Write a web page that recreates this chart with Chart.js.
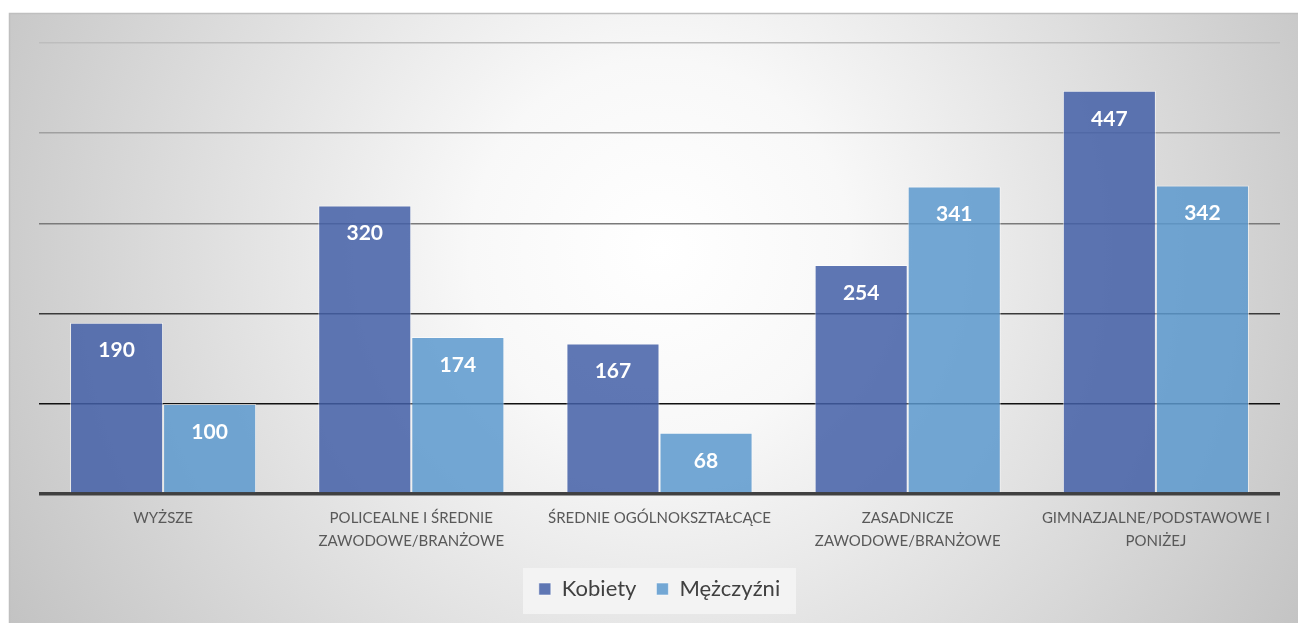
<!DOCTYPE html>
<html><head><meta charset="utf-8">
<script src="https://cdn.jsdelivr.net/npm/chart.js@4/dist/chart.umd.min.js"></script>
<style>html,body{margin:0;padding:0;background:#fff}#w{width:1298px;height:623px}</style>
</head><body><div id="w"><canvas id="c"></canvas></div>
<script>
const categories = [
  ["WYŻSZE"],
  ["POLICEALNE I ŚREDNIE", "ZAWODOWE/BRANŻOWE"],
  ["ŚREDNIE OGÓLNOKSZTAŁCĄCE"],
  ["ZASADNICZE", "ZAWODOWE/BRANŻOWE"],
  ["GIMNAZJALNE/PODSTAWOWE I", "PONIŻEJ"]
];
const kobiety = [190, 320, 167, 254, 447];
const mezczyzni = [100, 174, 68, 341, 342];
const yTicks = [0, 100, 200, 300, 400, 500];

const gridColors = {0:'#404040',100:'#111111',200:'#3a3a3a',300:'#7a7a7a',400:'#a0a0a0',500:'#bdbdbd'};

const bgPlugin = {
  id: 'bg',
  beforeDraw(chart) {
    const ctx = chart.ctx;
    ctx.save();
    ctx.fillStyle = '#ffffff';
    ctx.fillRect(0, 0, chart.width, chart.height);
    const g = ctx.createRadialGradient(660, 250, 0, 660, 250, 760);
    g.addColorStop(0, '#ffffff');
    g.addColorStop(0.25, '#f8f8f8');
    g.addColorStop(1, '#c2c2c2');
    ctx.fillStyle = g;
    ctx.fillRect(9, 13, chart.width - 9, chart.height - 13);
    ctx.strokeStyle = '#bfbfbf';
    ctx.lineWidth = 1.5;
    ctx.beginPath();
    ctx.moveTo(9.5, chart.height); ctx.lineTo(9.5, 13.5); ctx.lineTo(chart.width, 13.5);
    ctx.stroke();
    ctx.fillStyle = 'rgba(245,245,245,0.85)';
    ctx.fillRect(523, 568, 273, 46);
    ctx.restore();
  }
};

const labelPlugin = {
  id: 'vals',
  afterDatasetsDraw(chart) {
    const ctx = chart.ctx;
    ctx.save();
    ctx.font = 'bold 21px Lato, "Open Sans", sans-serif';
    ctx.fillStyle = '#ffffff';
    ctx.textAlign = 'center';
    ctx.textBaseline = 'middle';
    chart.data.datasets.forEach((ds, i) => {
      chart.getDatasetMeta(i).data.forEach((el, j) => {
        ctx.fillText(String(ds.data[j]), el.x, el.y + 28);
      });
    });
    ctx.restore();
  }
};

new Chart(document.getElementById('c'), {
  type: 'bar',
  data: {
    labels: categories,
    datasets: [
      { label: 'Kobiety', data: kobiety, backgroundColor: 'rgba(67,95,167,0.85)', borderColor: 'rgba(255,255,255,0.55)', borderWidth: 1, categoryPercentage: 0.75, barPercentage: 1 },
      { label: 'Mężczyźni', data: mezczyzni, backgroundColor: 'rgba(92,153,206,0.85)', borderColor: 'rgba(255,255,255,0.55)', borderWidth: 1, categoryPercentage: 0.75, barPercentage: 1 }
    ]
  },
  options: {
    responsive: true,
    maintainAspectRatio: false,
    animation: false,
    layout: { padding: { left: 39, right: 18, top: 43, bottom: 13 } },
    scales: {
      x: {
        grid: { display: false },
        border: { display: false },
        ticks: { color: '#595959', font: { family: 'Lato, "Open Sans", sans-serif', size: 15, lineHeight: 1.53 }, padding: 5, maxRotation: 0, autoSkip: false }
      },
      y: {
        min: 0, max: 500,
        afterBuildTicks(axis) { axis.ticks = yTicks.map(v => ({ value: v })); },
        ticks: { display: false },
        border: { display: false },
        grid: {
          drawTicks: false,
          color: c => gridColors[c.tick.value] || '#888',
          lineWidth: c => c.tick.value === 0 ? 3.5 : 1.5
        }
      }
    },
    plugins: {
      legend: {
        position: 'bottom',
        labels: { color: '#404040', font: { family: 'Lato, "Open Sans", sans-serif', size: 22 }, boxWidth: 12, boxHeight: 12, padding: 20, useBorderRadius: false }
      },
      tooltip: { enabled: false }
    }
  },
  plugins: [bgPlugin, labelPlugin]
});
</script>
</body></html>
